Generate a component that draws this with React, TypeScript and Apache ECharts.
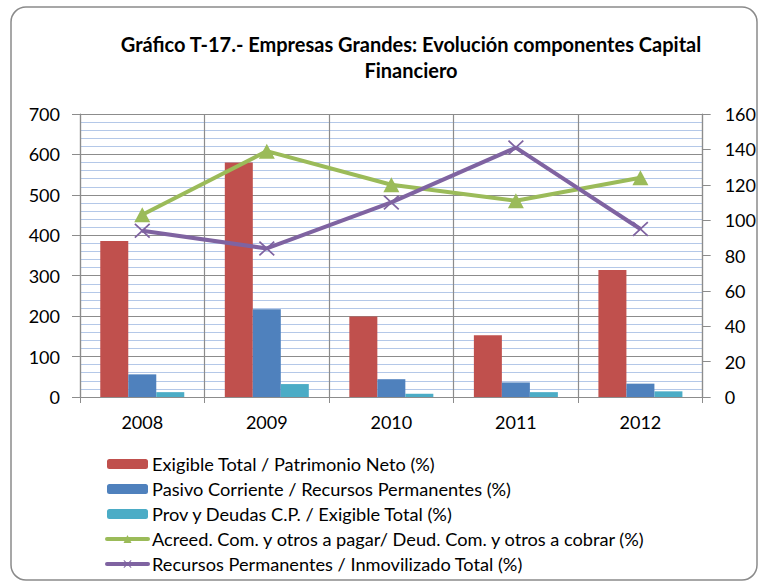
import React, { useEffect, useRef } from "react";
import * as echarts from "echarts";

const years = ["2008", "2009", "2010", "2011", "2012"];
const exigiblePatrimonio = [386, 580, 199, 153, 314];
const pasivoRecursos = [56, 217, 44, 36, 33];
const provDeudas = [12, 32, 8, 12, 14];
const acreedDeud = [103, 139, 120, 111, 124];
const recursosInmov = [94, 84, 110, 141, 95];

const names = [
  "Exigible Total / Patrimonio Neto (%)",
  "Pasivo Corriente / Recursos Permanentes (%)",
  "Prov y Deudas C.P. / Exigible Total (%)",
  "Acreed. Com. y otros a pagar/ Deud. Com. y otros a cobrar (%)",
  "Recursos Permanentes / Inmovilizado Total (%)",
];

const FONT = "Lato, 'Open Sans', sans-serif";
const X_SYMBOL =
  "path://M0,1.2 L1.2,0 L16,13.8 L14.8,15 Z M14.8,0 L16,1.2 L1.2,15 L0,13.8 Z";

export default function App() {
  const ref = useRef<HTMLDivElement>(null);
  useEffect(() => {
    if (!ref.current) return;
    const chart = echarts.init(ref.current, undefined, { renderer: "svg" });
    const gray = "#8c8c8c";
    chart.setOption({
      animation: false,
      backgroundColor: "#ffffff",
      textStyle: { fontFamily: FONT, color: "#000" },
      graphic: [
        {
          type: "rect",
          shape: { x: 11, y: 7, width: 746, height: 573, r: 15 },
          style: { fill: "none", stroke: "#8a8a8a", lineWidth: 1.5 },
          silent: true,
          z: -1,
        },
        {
          type: "text",
          x: 411,
          y: 31,
          style: {
            text: "Gráfico T-17.- Empresas Grandes: Evolución componentes Capital\nFinanciero",
            align: "center",
            fontFamily: FONT,
            fontWeight: "bold",
            fontSize: 20,
            lineHeight: 26,
            fill: "#000",
          },
        },
      ],
      legend: {
        orient: "vertical",
        left: 100,
        top: 449,
        itemWidth: 41,
        itemHeight: 10,
        itemGap: 5,
        data: [
          { name: names[0] },
          { name: names[1] },
          { name: names[2] },
          { name: names[3], lineStyle: { width: 4, cap: "round" } },
          { name: names[4], lineStyle: { width: 4, cap: "round" } },
        ],
        textStyle: { fontFamily: FONT, fontSize: 18.2, color: "#000", lineHeight: 20, padding: [0, 0, 0, -1] },
      },
      grid: { left: 80, right: 54, top: 114, bottom: 185, containLabel: false },
      xAxis: {
        type: "category",
        data: years,
        axisLine: { lineStyle: { color: gray, width: 1.2 } },
        axisTick: { show: true, length: 6, lineStyle: { color: gray } },
        axisLabel: { fontFamily: FONT, fontSize: 18, color: "#000", margin: 16 },
        splitLine: { show: true, lineStyle: { color: gray, width: 1.2 } },
      },
      yAxis: [
        {
          type: "value",
          min: 0,
          max: 700,
          interval: 100,
          axisLine: { show: true, lineStyle: { color: gray, width: 1.2 } },
          axisTick: { show: true, length: 8, lineStyle: { color: gray } },
          axisLabel: { fontFamily: FONT, fontSize: 18, color: "#000", margin: 20 },
          splitLine: { show: true, lineStyle: { color: gray, width: 1.2 } },
          minorTick: { show: false, splitNumber: 5 },
          minorSplitLine: { show: true, lineStyle: { color: "#b4c8e8", width: 1 } },
        },
        {
          type: "value",
          min: 0,
          max: 160,
          interval: 20,
          position: "right",
          axisLine: { show: true, lineStyle: { color: gray, width: 1.2 } },
          axisTick: { show: true, length: 8, lineStyle: { color: gray } },
          axisLabel: { fontFamily: FONT, fontSize: 18, color: "#000", margin: 22 },
          splitLine: { show: false },
        },
      ],
      series: [
        {
          name: names[0],
          type: "bar",
          data: exigiblePatrimonio,
          barWidth: 28,
          barGap: "0%",
          itemStyle: { color: "#c0504d" },
        },
        {
          name: names[1],
          type: "bar",
          data: pasivoRecursos,
          barWidth: 28,
          barGap: "0%",
          itemStyle: { color: "#4f81bd" },
        },
        {
          name: names[2],
          type: "bar",
          data: provDeudas,
          barWidth: 28,
          barGap: "0%",
          itemStyle: { color: "#4bacc6" },
        },
        {
          name: names[3],
          type: "line",
          yAxisIndex: 1,
          data: acreedDeud,
          symbol: "triangle",
          symbolSize: [16, 15],
          lineStyle: { color: "#9bbb59", width: 4 },
          itemStyle: { color: "#9bbb59" },
          z: 5,
        },
        {
          name: names[4],
          type: "line",
          yAxisIndex: 1,
          data: recursosInmov,
          symbol: X_SYMBOL,
          symbolSize: [16, 15],
          lineStyle: { color: "#7f63a1", width: 4 },
          itemStyle: { color: "#7f63a1" },
          z: 6,
        },
      ],
    });
    return () => chart.dispose();
  }, []);
  return (
    <div
      ref={ref}
      style={{ position: "absolute", left: 0, top: 0, width: 759, height: 582 }}
    />
  );
}
